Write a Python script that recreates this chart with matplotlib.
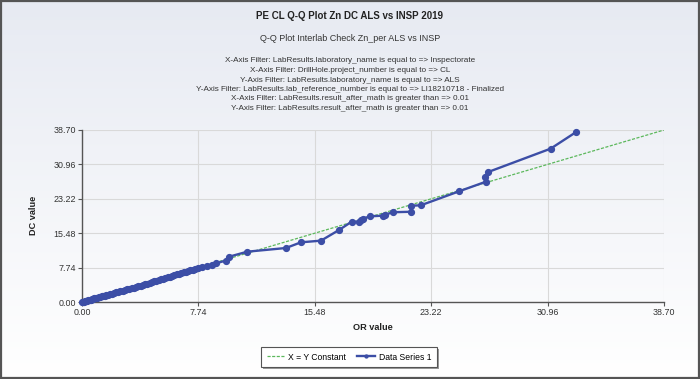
import numpy as np
import matplotlib
matplotlib.use("Agg")
import matplotlib.pyplot as plt
from matplotlib.patches import Rectangle

# ---- data ----
title = "PE CL Q-Q Plot Zn DC ALS vs INSP 2019"
subtitle = "Q-Q Plot Interlab Check Zn_per ALS vs INSP"
filters = [
    "X-Axis Filter: LabResults.laboratory_name is equal to => Inspectorate",
    "X-Axis Filter: DrillHole.project_number is equal to => CL",
    "Y-Axis Filter: LabResults.laboratory_name is equal to => ALS",
    "Y-Axis Filter: LabResults.lab_reference_number is equal to => LI18210718 - Finalized",
    "X-Axis Filter: LabResults.result_after_math is greater than => 0.01",
    "Y-Axis Filter: LabResults.result_after_math is greater than => 0.01",
]
ticks = [0.00, 7.74, 15.48, 23.22, 30.96, 38.70]
tick_labels = ["0.00", "7.74", "15.48", "23.22", "30.96", "38.70"]
xy_const = [0.0, 38.70]

x_vals = [0.02, 0.05, 0.12, 0.2, 0.28, 0.35, 0.42, 0.5, 0.58, 0.66, 0.75, 0.83, 0.92,
          1.0, 1.1, 1.2, 1.3, 1.4, 1.5, 1.62, 1.75, 1.88, 2.0, 2.12, 2.25, 2.4,
          2.55, 2.7, 2.85, 3.0, 3.15, 3.3, 3.45, 3.6, 3.75, 3.9, 4.05, 4.2, 4.35,
          4.5, 4.65, 4.8, 4.95, 5.1, 5.25, 5.4, 5.55, 5.7, 5.85, 6.0, 6.15, 6.3,
          6.45, 6.6, 6.75, 6.9, 7.05, 7.2, 7.35, 7.5, 7.69, 7.96, 8.29, 8.62,
          8.89, 9.55, 9.79, 10.99, 13.56, 14.56, 15.89, 17.09, 17.93, 18.42,
          18.57, 18.66, 19.17, 20.03, 20.12, 20.70, 21.85, 21.88, 22.52, 25.07,
          26.86, 26.82, 27.01, 31.16, 32.83]
y_vals = [0.02, 0.04, 0.11, 0.18, 0.26, 0.33, 0.40, 0.47, 0.55, 0.63, 0.71, 0.79, 0.88,
          0.95, 1.05, 1.14, 1.24, 1.33, 1.42, 1.54, 1.67, 1.79, 1.90, 2.01, 2.14, 2.29,
          2.44, 2.58, 2.70, 2.82, 2.93, 3.06, 3.25, 3.42, 3.56, 3.70, 3.86, 4.01, 4.16,
          4.31, 4.47, 4.62, 4.77, 4.92, 5.07, 5.21, 5.36, 5.52, 5.68, 5.84, 6.03, 6.20,
          6.34, 6.50, 6.66, 6.82, 6.98, 7.14, 7.30, 7.48, 7.66, 7.95, 8.15, 8.42,
          8.70, 9.30, 10.20, 11.32, 12.15, 13.43, 13.80, 16.20, 18.07, 18.07,
          18.52, 18.75, 19.28, 19.43, 19.65, 20.20, 20.30, 21.67, 21.75, 24.90,
          27.07, 28.05, 29.25, 34.50, 38.18]

W, H = 700, 379
fig = plt.figure(figsize=(W / 100, H / 100), dpi=100)
plt.rcParams['font.family'] = ['Liberation Sans', 'DejaVu Sans']

# figure background gradient
bg = fig.add_axes([0, 0, 1, 1], zorder=-10)
grad = np.linspace(0, 1, 256).reshape(-1, 1)
c_top = np.array([0.905, 0.918, 0.949])
c_bot = np.array([1.0, 1.0, 1.0])
img = c_top[None, None, :] * (1 - grad[:, :, None]) + c_bot[None, None, :] * grad[:, :, None]
bg.imshow(img, aspect='auto', extent=[0, 1, 0, 1])
bg.set_xlim(0, 1); bg.set_ylim(0, 1)
bg.axis('off')
bg.add_patch(Rectangle((0.001, 0.002), 0.997, 0.995, fill=False, ec='#555555', lw=1.6,
                       transform=bg.transAxes))

# texts
fig.text(350 / W, 1 - 16 / H, title, ha='center', va='center', fontsize=7, fontweight='bold', color='#222222')
fig.text(350 / W, 1 - 38.5 / H, subtitle, ha='center', va='center', fontsize=6.5, color='#333333')
fy = [61, 70.5, 80, 89.5, 99, 108.5]
for t, yy in zip(filters, fy):
    fig.text(350 / W, 1 - yy / H, t, ha='center', va='center', fontsize=5.9, color='#333333')

left, right, top, bottom = 82, 664, 130, 302
ax = fig.add_axes([left / W, 1 - bottom / H, (right - left) / W, (bottom - top) / H])
ax.set_facecolor('none')
ax.set_xlim(0, 38.70)
ax.set_ylim(0, 38.70)
ax.set_xticks(ticks)
ax.set_xticklabels(tick_labels)
ax.set_yticks(ticks)
ax.set_yticklabels(tick_labels)
ax.grid(True, color='#d9d9d9', lw=0.8)
ax.set_axisbelow(True)
for s in ['top', 'right']:
    ax.spines[s].set_visible(False)
for s in ['left', 'bottom']:
    ax.spines[s].set_color('#555555')
    ax.spines[s].set_linewidth(1.0)
ax.tick_params(axis='both', labelsize=6.4, colors='#555555', labelcolor='#333333',
               length=3, width=0.8, pad=1.5)

ax.plot(xy_const, xy_const, ls='--', color='#5cb85c', lw=0.9, dashes=(2.5, 1.2),
        label='X = Y Constant', zorder=2)
ax.plot(x_vals, y_vals, '-o', color='#3c4ea6', lw=1.7, ms=4.2, mec='#3c4ea6',
        label='Data Series 1', zorder=3, clip_on=False)

fig.text(33 / W, 1 - 215 / H, "DC value", rotation=90, ha='center', va='center',
         fontsize=6.6, fontweight='bold', color='#222222')
fig.text(373 / W, 1 - 327 / H, "OR value", ha='center', va='center',
         fontsize=6.6, fontweight='bold', color='#222222')

# legend
lx0, lx1, ly0, ly1 = 261, 437, 347, 367
bg.add_patch(Rectangle(((lx0 + 2) / W, 1 - (ly1 + 2) / H), (lx1 - lx0) / W, (ly1 - ly0) / H,
                       fc='#9a9a9a', ec='none', transform=bg.transAxes, zorder=1))
bg.add_patch(Rectangle((lx0 / W, 1 - ly1 / H), (lx1 - lx0) / W, (ly1 - ly0) / H,
                       fc='white', ec='#555555', lw=0.8, transform=bg.transAxes, zorder=2))
leg = fig.legend(loc='center', bbox_to_anchor=((lx0 + lx1) / 2 / W, 1 - (ly0 + ly1) / 2 / H),
                 ncol=2, frameon=False, fontsize=6.2, handlelength=2.0, columnspacing=1.3,
                 handletextpad=0.5, markerscale=0.5)

fig.savefig('out.png', dpi=100)
